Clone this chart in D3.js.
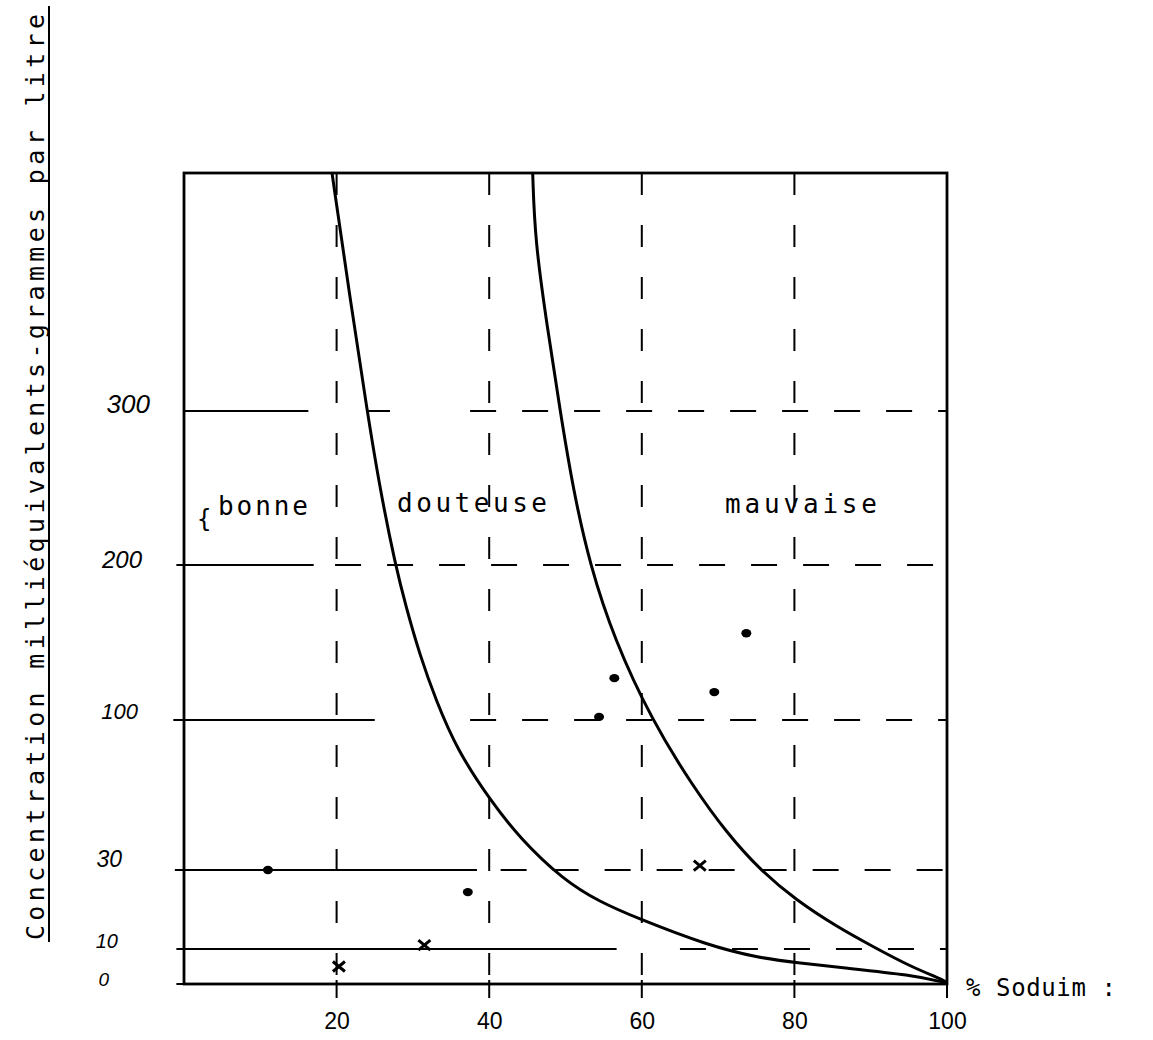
<!DOCTYPE html>
<html><head><meta charset="utf-8">
<script src="https://cdn.jsdelivr.net/npm/d3@7"></script>
<style>body{margin:0;background:#fff}svg{display:block}</style>
</head><body>
<svg id="c" width="1153" height="1040"></svg>
<script>
// ---------------- DATA ----------------
const xTicks = [20, 40, 60, 80, 100];
const xTickLabels = ["20", "40", "60", "80", "100"];
const yTicks = [0, 10, 30, 100, 200, 300];
const yTickLabels = ["0", "10", "30", "100", "200", "300"];
const yBreaks = [0, 10, 30, 100, 200, 300, 455];   // piecewise concentration scale
const gridSodium = [20, 40, 60, 80];

// boundary bonne / douteuse  [% sodium, concentration]
const curveBonneDouteuse = [[19.4,455],[21.6,379],[24.0,300],[25.7,249],[27.7,200],[29.1,173],
  [30.9,142],[33.0,113],[35.8,86],[40.1,62.7],[44.0,44.9],[49.7,27.5],[54.5,21.9],[59.4,17.8],[68.5,11],
  [75.4,7.4],[80.7,6],[86.5,4.6],[95.3,2.6],[100,0.3]];
// boundary douteuse / mauvaise
const curveDouteuseMauvaise = [[45.7,455],[46.0,411],[47.6,355],[49.3,300],[51.0,249],[53.2,200],[56.4,152],
  [61.3,100],[66.7,69],[71.2,47],[75.5,30],[80.2,22.4],[85.6,15.6],[90.4,10.5],[95.3,4.9],[99.6,1.1],[100,0.3]];

const dotSodium = [11.0, 37.2, 54.4, 56.4, 69.5, 73.7];
const dotConc   = [30, 24.4, 102, 127, 118, 156];
const crossSodium = [20.3, 31.5, 67.6];
const crossConc   = [5, 11, 32];

const regionNames = ["bonne", "douteuse", "mauvaise"];
const yTitle = "Concentration milliéquivalents-grammes par litre";
const xTitle = "% Soduim :";

// horizontal reference lines: solid and dashed pieces, in % sodium
const hLineValues = [300, 200, 100, 30, 10, 0];
const hLineSolid  = [[[0,16.3],[24.0,27.0]], [[-1,17]], [[-1.4,25]], [[-1.2,38.4]], [[-1,56.7]], [[-1,100]]];
const hLineDashed = [[[37.5,100]], [[19.8,100]], [[37.5,100]], [[41.5,100]], [[65,100]], []];

// ---------------- LAYOUT ----------------
const svg = d3.select("#c");
const X0 = 184, X1 = 947;
const yPix = [984, 949, 870, 720, 565, 411, 173];
const x = d3.scaleLinear().domain([0, 100]).range([X0, X1]);
const y = d3.scaleLinear().domain(yBreaks).range(yPix);
const mono = "'DejaVu Sans Mono', 'Liberation Mono', monospace";

// vertical dashed grid lines
gridSodium.forEach(v => {
  svg.append("line").attr("x1", x(v)).attr("x2", x(v)).attr("y1", y(455)).attr("y2", y(0))
    .attr("stroke", "#000").attr("stroke-width", 2).attr("stroke-dasharray", "22,30");
});
// ticks below the bottom line
xTicks.forEach(v => {
  svg.append("line").attr("x1", x(v)).attr("x2", x(v)).attr("y1", y(0) - 4).attr("y2", y(0) + 14)
    .attr("stroke", "#000").attr("stroke-width", 2);
});

// horizontal lines
hLineValues.forEach((v, i) => {
  hLineSolid[i].forEach(s => {
    svg.append("line").attr("x1", x(s[0])).attr("x2", x(s[1])).attr("y1", y(v)).attr("y2", y(v))
      .attr("stroke", "#000").attr("stroke-width", 2);
  });
  hLineDashed[i].forEach(s => {
    svg.append("line").attr("x1", x(s[0])).attr("x2", x(s[1])).attr("y1", y(v)).attr("y2", y(v))
      .attr("stroke", "#000").attr("stroke-width", 2).attr("stroke-dasharray", "26,26");
  });
});

// frame
svg.append("rect").attr("x", x(0)).attr("y", y(455)).attr("width", x(100) - x(0)).attr("height", y(0) - y(455))
  .attr("fill", "none").attr("stroke", "#000").attr("stroke-width", 2.8);

// curves
const line = d3.line().x(d => x(d[0])).y(d => y(d[1])).curve(d3.curveBasis);
[curveBonneDouteuse, curveDouteuseMauvaise].forEach(c => {
  svg.append("path").attr("d", line(c)).attr("fill", "none").attr("stroke", "#000").attr("stroke-width", 3);
});

// points
svg.selectAll("ellipse.dot").data(dotSodium).join("ellipse").attr("class", "dot")
  .attr("cx", (d) => x(d)).attr("cy", (d, i) => y(dotConc[i])).attr("rx", 5).attr("ry", 4.2).attr("fill", "#000");
svg.selectAll("path.cross").data(crossSodium).join("path").attr("class", "cross")
  .attr("transform", (d, i) => `translate(${x(d)},${y(crossConc[i])})`)
  .attr("d", "M-6,-5L6,5M-6,5L6,-5").attr("stroke", "#000").attr("stroke-width", 3).attr("fill", "none");

// x axis labels
const gx = svg.append("g").attr("transform", `translate(0,${y(0)})`)
  .call(d3.axisBottom(x).tickValues(xTicks).tickFormat((d, i) => xTickLabels[i]).tickSize(0).tickPadding(29));
gx.select(".domain").remove();
gx.attr("font-family", "'Liberation Sans', Arial, sans-serif").attr("font-size", 23);
gx.selectAll("text").attr("fill", "#000");

// y axis labels (hand-lettered, italic)
const yLabelStyle = {300: {size: 26, end: 150, dy: -7}, 200: {size: 24, end: 142, dy: -5},
  100: {size: 22, end: 138, dy: -9}, 30: {size: 23, end: 122, dy: -11}, 10: {size: 20, end: 118, dy: -8},
  0: {size: 19, end: 109, dy: -5}};
const gy = svg.append("g").attr("transform", `translate(${x(0)},0)`)
  .call(d3.axisLeft(y).tickValues(yTicks).tickFormat((d, i) => yTickLabels[i]).tickSize(0).tickPadding(34));
gy.select(".domain").remove();
gy.attr("font-family", "'Liberation Sans', Arial, sans-serif");
gy.selectAll(".tick text").each(function(d) {
  const s = yLabelStyle[d];
  d3.select(this).attr("fill", "#000").attr("font-style", "italic").attr("font-size", s.size)
    .attr("x", s.end - x(0)).attr("y", s.dy);
});

// region labels
const regionPos = [[218, 515, 90], [397, 512, 150], [725, 513, 152]];
regionNames.forEach((n, i) => {
  svg.append("text").attr("x", regionPos[i][0]).attr("y", regionPos[i][1]).text(n)
    .attr("font-family", mono).attr("font-size", 26).attr("textLength", regionPos[i][2])
    .attr("lengthAdjust", "spacing").attr("fill", "#000");
});
svg.append("text").attr("x", 197).attr("y", 527).text("{").attr("font-family", mono)
  .attr("font-size", 24).attr("fill", "#000");

// y title (rotated) with underline
svg.append("text").attr("transform", "translate(44,940) rotate(-90)").text(yTitle)
  .attr("font-family", mono).attr("font-size", 25).attr("textLength", 926).attr("lengthAdjust", "spacing")
  .attr("fill", "#000");
svg.append("line").attr("x1", 49).attr("x2", 49).attr("y1", 942).attr("y2", 6)
  .attr("stroke", "#000").attr("stroke-width", 2);

// x title
svg.append("text").attr("x", 966).attr("y", 996).text(xTitle)
  .attr("font-family", mono).attr("font-size", 24).attr("textLength", 150).attr("lengthAdjust", "spacing")
  .attr("fill", "#000");
</script>
</body></html>
